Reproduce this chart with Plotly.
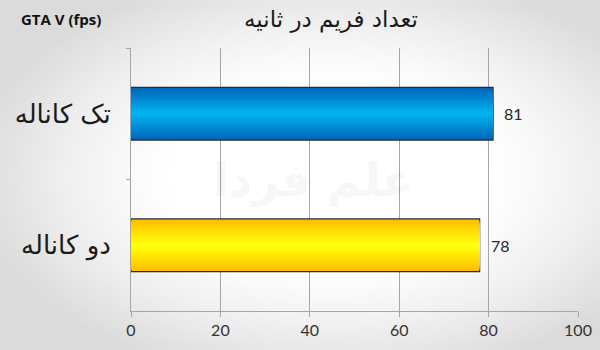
import base64, struct, zlib
import plotly.graph_objects as go

# ---- data ----
categories = ["تک کاناله", "دو کاناله"]
values = [81, 78]
edge_colors = [(0, 102, 184), (255, 190, 0)]
center_colors = [(0, 178, 240), (255, 255, 10)]
x_ticks = [0, 20, 40, 60, 80, 100]
title_text = "تعداد فریم در ثانیه"
subtitle_text = "GTA V (fps)"
watermark_text = "علم فردا"

W, H = 600, 350
ML, MR, MT, MB = 131, 22, 48, 39
PW, PH = W - ML - MR, H - MT - MB


# ---- background radial gradient as a small png ----
def make_png(w, h):
    rows = b""
    for j in range(h):
        row = b"\x00"
        for i in range(w):
            dx = (i + 0.5) / w - 0.55
            dy = (j + 0.5) / h - 0.5
            d = ((dx / 0.62) ** 2 + (dy / 0.62) ** 2) ** 0.5
            t = max(0.0, min(1.0, (d - 0.42) / 0.55))
            v = int(round(255 - 36 * t ** 1.3))
            row += bytes((v, v, v))
        rows += row

    def chunk(tag, data):
        c = struct.pack(">I", len(data)) + tag + data
        return c + struct.pack(">I", zlib.crc32(tag + data) & 0xFFFFFFFF)

    png = b"\x89PNG\r\n\x1a\n"
    png += chunk(b"IHDR", struct.pack(">IIBBBBB", w, h, 8, 2, 0, 0, 0))
    png += chunk(b"IDAT", zlib.compress(rows, 9))
    png += chunk(b"IEND", b"")
    return "data:image/png;base64," + base64.b64encode(png).decode()


bg = make_png(120, 70)

fig = go.Figure()

# layered bars to mimic the vertical gradient
N = 14
bar_w = 0.4
for k in range(N):
    t = k / (N - 1)
    w = bar_w * (1 - k / N)
    cols = []
    for e, c in zip(edge_colors, center_colors):
        rgb = tuple(int(round(e[m] + (c[m] - e[m]) * t)) for m in range(3))
        cols.append("rgb(%d,%d,%d)" % rgb)
    fig.add_trace(go.Bar(
        y=categories, x=values, orientation="h", width=w,
        marker=dict(color=cols,
                    line=dict(color="#2b2b2b" if k == 0 else "rgba(0,0,0,0)",
                              width=1.2 if k == 0 else 0)),
        hoverinfo="skip", showlegend=False,
    ))

for cat, v in zip(categories, values):
    fig.add_annotation(x=v, y=cat, text=str(v), showarrow=False,
                       xanchor="left", xshift=9,
                       font=dict(family="Lato", size=16, color="#262626"))

fig.add_annotation(xref="paper", yref="paper", x=(313 - ML) / PW, y=0.5,
                   text="<b>" + watermark_text + "</b>", showarrow=False,
                   font=dict(family="DejaVu Sans", size=46, color="rgba(0,0,0,0.05)"))

fig.add_annotation(xref="paper", yref="paper", x=(19 - ML) / PW, y=1 + (MT - 19) / PH,
                   text="<b>" + subtitle_text + "</b>", showarrow=False,
                   xanchor="left", yanchor="middle",
                   font=dict(family="Open Sans", size=15, color="#111111"))

fig.update_layout(
    width=W, height=H,
    margin=dict(l=ML, r=MR, t=MT, b=MB, autoexpand=False),
    barmode="overlay",
    paper_bgcolor="white",
    plot_bgcolor="rgba(0,0,0,0)",
    title=dict(text=title_text, x=331 / W, xanchor="center",
               y=1 - 19 / H, yanchor="middle",
               font=dict(family="DejaVu Sans", size=23, color="#1a1a1a")),
    images=[dict(source=bg, xref="paper", yref="paper",
                 x=-ML / PW, y=1 + MT / PH, sizex=W / PW, sizey=H / PH,
                 xanchor="left", yanchor="top", sizing="stretch", layer="below")],
    xaxis=dict(range=[0, 100], tickvals=x_ticks, showgrid=True,
               gridcolor="#a6a6a6", gridwidth=1, zeroline=False,
               showline=True, linecolor="#a6a6a6", linewidth=1,
               ticks="outside", ticklen=5, tickcolor="#a6a6a6",
               tickfont=dict(family="Lato", size=16, color="#333333"),
               automargin=False, fixedrange=True),
    yaxis=dict(autorange="reversed", showgrid=False, zeroline=False,
               showline=True, linecolor="#a6a6a6", linewidth=1,
               ticks="outside", ticklen=4, tickcolor="#a6a6a6",
               tickson="boundaries", ticklabelstandoff=14,
               tickfont=dict(family="DejaVu Sans", size=26, color="#1a1a1a"),
               automargin=False, fixedrange=True),
)

fig.write_html("out.html")
